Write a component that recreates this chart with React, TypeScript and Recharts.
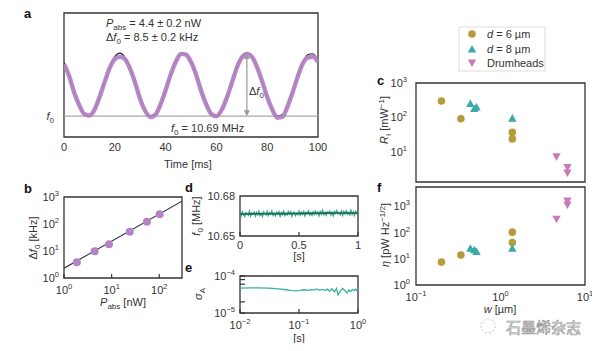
import React from 'react';
import {
  LineChart, Line, ScatterChart, Scatter, XAxis, YAxis, ReferenceLine, ReferenceArea,
} from 'recharts';

const FONT = '"Liberation Sans", Arial, Helvetica, sans-serif';
const INK = '#333';
const PURPLE = '#b483c4';
const GOLD = '#b59b3b';
const TEAL = '#39a9aa';
const PINK = '#c97ab5';
const D_GREEN = '#3aa88a';
const D_DARK = '#1d6655';
const E_LINE = '#3bb0a0';

// ---- a: frequency shift above f0 (kHz) vs time (ms)
const aTime = [0, 2, 4, 6, 8, 10, 12, 14, 16, 18, 20, 22, 24, 26, 28, 30, 32, 34, 36, 38, 40, 42, 44, 46, 48, 50,
  52, 54, 56, 58, 60, 62, 64, 66, 68, 70, 72, 74, 76, 78, 80, 82, 84, 86, 88, 90, 92, 94, 96, 98, 100];
const aMeasured = [7.0, 5.45, 3.2, 1.5, 0.3, 0.1, 0.85, 2.6, 4.6, 6.5, 7.7, 8.0, 7.7, 6.4, 4.5, 2.3, 0.7, -0.1, 0.2,
  1.6, 3.5, 5.6, 7.3, 8.4, 8.3, 7.3, 5.6, 3.4, 1.6, 0.3, 0.0, 0.8, 2.4, 4.4, 6.5, 7.9, 8.4, 8.0, 6.6, 4.7, 2.6, 0.9,
  -0.2, -0.1, 1.3, 3.2, 5.3, 7.1, 7.9, 8.0, 7.3];
const aFit = [7.2, 5.38, 3.27, 1.41, 0.24, 0.06, 0.9, 2.57, 4.65, 6.63, 8.03, 8.5, 7.93, 6.45, 4.44, 2.37, 0.78, 0.03,
  0.31, 1.57, 3.48, 5.58, 7.35, 8.37, 8.37, 7.36, 5.59, 3.49, 1.58, 0.32, 0.03, 0.77, 2.37, 4.43, 6.45, 7.92, 8.5,
  8.03, 6.64, 4.66, 2.58, 0.91, 0.06, 0.24, 1.4, 3.26, 5.36, 7.2, 8.3, 8.42, 7.51];
const aTicks = [0, 20, 40, 60, 80, 100];
const aArrowTime = 72;
const aShift = 8.5;

// ---- b: Δf0 (kHz) vs Pabs (nW)
const bPower = [1.86, 4.4, 8.8, 24, 55, 102];
const bShift = [3.8, 9.7, 17.7, 52, 122, 230];
const bFitPower = [1, 300];
const bFitShift = [2.3, 700];

// ---- d: f0 (MHz) vs time (s)
const dFreq = [
  10.6673, 10.6653, 10.668, 10.666, 10.6647, 10.6675, 10.6668, 10.6656, 10.6685, 10.6651,
  10.6672, 10.6664, 10.6678, 10.665, 10.6675, 10.6659, 10.6683, 10.6655, 10.667, 10.6647,
  10.668, 10.6668, 10.6659, 10.6683, 10.6654, 10.6674, 10.6663, 10.6686, 10.6657, 10.6672,
  10.6652, 10.6678, 10.6666, 10.6681, 10.665, 10.6675, 10.6661, 10.6685, 10.6655, 10.6669,
  10.6659, 10.6683, 10.6665, 10.668, 10.665, 10.6674, 10.6678, 10.6654, 10.6671, 10.6661,
  10.6685, 10.6658, 10.6678, 10.6664, 10.6682, 10.6653, 10.6676, 10.6667, 10.6687, 10.6659,
  10.6674, 10.6657, 10.6681, 10.6662, 10.6685, 10.6666, 10.6679, 10.6653, 10.6682, 10.6664,
  10.6691, 10.6662, 10.6676, 10.6657, 10.6679, 10.667, 10.6685, 10.6659, 10.6677, 10.6653,
  10.6682, 10.6669, 10.6689, 10.6665, 10.6674, 10.6661, 10.6685, 10.6657, 10.6683, 10.6667,
  10.6688, 10.6664, 10.6676, 10.6659, 10.669, 10.6662, 10.6679, 10.6656, 10.6684, 10.6671,
  10.668,
];
const dMeanTime = [0, 0.1, 0.2, 0.3, 0.4, 0.5, 0.6, 0.7, 0.8, 0.9, 1];
const dMean = [10.6665, 10.6666, 10.6667, 10.6667, 10.6668, 10.6669, 10.667, 10.6671, 10.6672, 10.6672, 10.6673];

// ---- e: Allan deviation vs τ (s)
const eTau = [0.01, 0.015, 0.02, 0.03, 0.04, 0.05, 0.06, 0.07, 0.08, 0.09, 0.1, 0.11, 0.12, 0.14, 0.16, 0.18, 0.2,
  0.22, 0.25, 0.28, 0.3, 0.33, 0.36, 0.4, 0.43, 0.46, 0.5, 0.55, 0.6, 0.65, 0.7, 0.75, 0.8, 0.85, 0.9, 0.95, 1.0];
const eSigma = [4.7e-5, 4.75e-5, 4.75e-5, 4.7e-5, 4.55e-5, 4.4e-5, 4.25e-5, 4.1e-5, 4.0e-5, 3.95e-5, 4.0e-5, 4.15e-5,
  4.25e-5, 4.1e-5, 4.3e-5, 4.2e-5, 4.4e-5, 4.15e-5, 4.35e-5, 4.05e-5, 4.4e-5, 3.9e-5, 4.5e-5, 3.7e-5, 4.6e-5, 3.1e-5,
  3.9e-5, 4.6e-5, 4.0e-5, 3.5e-5, 4.2e-5, 3.8e-5, 4.3e-5, 4.0e-5, 4.4e-5, 4.1e-5, 4.6e-5];

// ---- c / f: responsivity and NEP vs width w (µm)
const gold6W = [0.2, 0.34, 1.38, 1.38];
const gold6R = [300, 92, 37, 24];
const gold6Eta = [7.5, 14, 42, 105];
const teal8W = [0.44, 0.49, 0.52, 1.38];
const teal8R = [251, 180, 200, 95];
const teal8Eta = [25, 22, 19, 25];
const drumW = [4.6, 6.2, 6.2];
const drumR = [7.3, 3.6, 2.5];
const drumEta = [330, 1650, 1170];

const pts = (xs: number[], ys: number[]) => xs.map((x, i) => ({ x, y: ys[i] }));

type Box = { x0: number; y0: number; x1: number; y1: number; L: number; B: number; T: number; R: number };
const place = (b: Box) => ({
  style: { position: 'absolute' as const, left: b.x0 - b.L, top: b.y0 - b.T },
  width: b.x1 - b.x0 + b.L + b.R,
  height: b.y1 - b.y0 + b.T + b.B,
  margin: { top: b.T, right: b.R, bottom: 0, left: 0 },
});

const powLabel = (v: number) => {
  const e = Math.round(Math.log10(v));
  return (
    <>
      <tspan>10</tspan>
      <tspan dy={-5} fontSize={7.5}>{e < 0 ? '\u2212' + -e : String(e)}</tspan>
    </>
  );
};
const plain = (v: number) => String(v);

const makeTick = (
  side: 'bottom' | 'left', margin: number, fmt: (v: number) => React.ReactNode,
  inward = 0, labelled?: number[],
) => (p: any) => {
  const v = p.payload.value;
  const show = !labelled || labelled.includes(v);
  if (side === 'bottom') {
    const ay = p.y - margin;
    return (
      <g>
        {inward ? <line x1={p.x} x2={p.x} y1={ay} y2={ay - inward} stroke={INK} strokeWidth={1.2} /> : null}
        {show ? (
          <text x={p.x} y={p.y} dy="0.71em" textAnchor="middle" fontSize={11} fill={INK} fontFamily={FONT}>{fmt(v)}</text>
        ) : null}
      </g>
    );
  }
  const ax = p.x + margin;
  return (
    <g>
      {inward ? <line x1={ax} x2={ax + inward} y1={p.y} y2={p.y} stroke={INK} strokeWidth={1.2} /> : null}
      {show ? (
        <text x={p.x} y={p.y} dy="0.355em" textAnchor="end" fontSize={11} fill={INK} fontFamily={FONT}>{fmt(v)}</text>
      ) : null}
    </g>
  );
};

const dot = (color: string, r: number) => (p: any) => <circle cx={p.cx} cy={p.cy} r={r} fill={color} />;
const triUp = (color: string, s = 4.2) => (p: any) => (
  <polygon points={`${p.cx},${p.cy - s} ${p.cx - s},${p.cy + s * 0.8} ${p.cx + s},${p.cy + s * 0.8}`} fill={color} />
);
const triDown = (color: string, s = 4.2) => (p: any) => (
  <polygon points={`${p.cx},${p.cy + s} ${p.cx - s},${p.cy - s * 0.8} ${p.cx + s},${p.cy - s * 0.8}`} fill={color} />
);
const none = () => <g />;

const frameProps = { fill: 'none', stroke: INK, strokeWidth: 1.3, fillOpacity: 0 };

function PanelA() {
  const box: Box = { x0: 64, y0: 13, x1: 318, y1: 137, L: 44, B: 30, T: 6, R: 14 };
  const pl = place(box);
  const data = aTime.map((t, i) => ({ t, meas: aMeasured[i], fit: aFit[i] }));
  const f0Label = () => (
    <>
      <tspan fontStyle="italic">f</tspan>
      <tspan fontSize={8} dy={3}>0</tspan>
    </>
  );
  const arrow = (p: any) => {
    const { x1, y1, x2, y2 } = p;
    const top = Math.min(y1, y2);
    const bot = Math.max(y1, y2);
    return (
      <g stroke="#9a9a9a" fill="#9a9a9a" strokeWidth={1.2}>
        <line x1={x1} x2={x2} y1={top + 4} y2={bot - 4} />
        <polygon points={`${x1},${top} ${x1 - 3},${top + 6} ${x1 + 3},${top + 6}`} stroke="none" />
        <polygon points={`${x1},${bot} ${x1 - 3},${bot - 6} ${x1 + 3},${bot - 6}`} stroke="none" />
      </g>
    );
  };
  return (
    <div style={pl.style}>
      <LineChart width={pl.width} height={pl.height} data={data} margin={pl.margin}>
        <XAxis type="number" dataKey="t" domain={[0, 100]} ticks={aTicks} interval={0} height={box.B}
          tickSize={0} tickMargin={6} axisLine={false} tick={makeTick('bottom', 6, plain)} allowDataOverflow />
        <YAxis type="number" domain={[-2.8, 13.9]} ticks={[0]} interval={0} width={box.L}
          tickSize={0} tickMargin={10} axisLine={false} tick={makeTick('left', 10, f0Label)} allowDataOverflow />
        <ReferenceLine y={0} stroke="#a8a8a8" strokeWidth={1.2} />
        <Line dataKey="fit" type="monotone" stroke="#222" strokeWidth={1.1} dot={false} isAnimationActive={false} />
        <Line dataKey="meas" type="monotone" stroke={PURPLE} strokeWidth={4.4} strokeOpacity={0.95} dot={false}
          isAnimationActive={false} />
        <ReferenceLine segment={[{ x: aArrowTime, y: 0 }, { x: aArrowTime, y: aShift }]} shape={arrow} />
        <ReferenceArea x1={0} x2={100} y1={-2.8} y2={13.9} {...frameProps} />
      </LineChart>
    </div>
  );
}

function PanelB() {
  const box: Box = { x0: 64, y0: 197, x1: 182, y1: 278, L: 44, B: 26, T: 8, R: 14 };
  const pl = place(box);
  return (
    <div style={pl.style}>
      <ScatterChart width={pl.width} height={pl.height} margin={pl.margin}>
        <XAxis type="number" dataKey="x" scale="log" domain={[1, 300]} ticks={[1, 10, 100]} interval={0}
          height={box.B} tickSize={0} tickMargin={8} axisLine={false} tick={makeTick('bottom', 8, powLabel, 4)}
          allowDataOverflow />
        <YAxis type="number" dataKey="y" scale="log" domain={[1, 1000]} ticks={[1, 10, 100, 1000]} interval={0}
          width={box.L} tickSize={0} tickMargin={5} axisLine={false} tick={makeTick('left', 5, powLabel)}
          allowDataOverflow />
        <Scatter data={pts(bFitPower, bFitShift)} line={{ stroke: INK, strokeWidth: 1.1 }} shape={none}
          isAnimationActive={false} />
        <Scatter data={pts(bPower, bShift)} shape={dot(PURPLE, 4)} isAnimationActive={false} />
        <ReferenceArea x1={1} x2={300} y1={1} y2={1000} {...frameProps} />
      </ScatterChart>
    </div>
  );
}

function PanelD() {
  const box: Box = { x0: 240, y0: 196, x1: 358, y1: 236, L: 44, B: 20, T: 8, R: 10 };
  const pl = place(box);
  const raw = dFreq.map((y, i) => ({ x: i / (dFreq.length - 1), y }));
  const mean = pts(dMeanTime, dMean);
  return (
    <div style={pl.style}>
      <LineChart width={pl.width} height={pl.height} margin={pl.margin}>
        <XAxis type="number" dataKey="x" domain={[0, 1]} ticks={[0, 0.5, 1]} interval={0} height={box.B}
          tickSize={0} tickMargin={5} axisLine={false} tick={makeTick('bottom', 5, plain, 4)} allowDataOverflow />
        <YAxis type="number" dataKey="y" domain={[10.65, 10.68]} ticks={[10.65, 10.68]} interval={0} width={box.L}
          tickSize={0} tickMargin={5} axisLine={false} tick={makeTick('left', 5, (v) => v.toFixed(2))}
          allowDataOverflow />
        <Line data={raw} dataKey="y" type="linear" stroke={D_GREEN} strokeWidth={1.5} dot={false}
          isAnimationActive={false} />
        <Line data={mean} dataKey="y" type="monotone" stroke={D_DARK} strokeWidth={1.6} dot={false}
          isAnimationActive={false} />
        <ReferenceArea x1={0} x2={1} y1={10.65} y2={10.68} {...frameProps} />
      </LineChart>
    </div>
  );
}

function PanelE() {
  const box: Box = { x0: 240, y0: 276, x1: 358, y1: 313, L: 44, B: 22, T: 8, R: 12 };
  const pl = place(box);
  const data = pts(eTau, eSigma);
  return (
    <div style={pl.style}>
      <LineChart width={pl.width} height={pl.height} data={data} margin={pl.margin}>
        <XAxis type="number" dataKey="x" scale="log" domain={[0.01, 1]} ticks={[0.01, 0.1, 1]} interval={0}
          height={box.B} tickSize={0} tickMargin={8} axisLine={false} tick={makeTick('bottom', 8, powLabel, 4)}
          allowDataOverflow />
        <YAxis type="number" dataKey="y" scale="log" domain={[1e-5, 1e-4]} ticks={[1e-5, 2e-5, 6e-5, 8e-5, 1e-4]}
          interval={0} width={box.L} tickSize={0} tickMargin={5} axisLine={false}
          tick={makeTick('left', 5, powLabel, 5, [1e-5, 1e-4])} allowDataOverflow />
        <Line dataKey="y" type="linear" stroke={E_LINE} strokeWidth={1.3} dot={false} isAnimationActive={false} />
        <ReferenceArea x1={0.01} x2={1} y1={1e-5} y2={1e-4} {...frameProps} />
      </LineChart>
    </div>
  );
}

function PanelC() {
  const box: Box = { x0: 416, y0: 83, x1: 585, y1: 182, L: 40, B: 4, T: 8, R: 8 };
  const pl = place(box);
  return (
    <div style={pl.style}>
      <ScatterChart width={pl.width} height={pl.height} margin={pl.margin}>
        <XAxis type="number" dataKey="x" scale="log" domain={[0.1, 10]} ticks={[0.1, 1, 10]} height={box.B}
          tick={false} tickLine={false} axisLine={false} allowDataOverflow />
        <YAxis type="number" dataKey="y" scale="log" domain={[1.35, 1000]} ticks={[10, 100, 1000]} interval={0}
          width={box.L} tickSize={0} tickMargin={9} axisLine={false} tick={makeTick('left', 9, powLabel)}
          allowDataOverflow />
        <Scatter data={pts(gold6W, gold6R)} shape={dot(GOLD, 3.8)} isAnimationActive={false} />
        <Scatter data={pts(teal8W, teal8R)} shape={triUp(TEAL)} isAnimationActive={false} />
        <Scatter data={pts(drumW, drumR)} shape={triDown(PINK)} isAnimationActive={false} />
        <ReferenceArea x1={0.1} x2={10} y1={1.35} y2={1000} {...frameProps} />
      </ScatterChart>
    </div>
  );
}

function PanelF() {
  const box: Box = { x0: 416, y0: 187, x1: 585, y1: 285, L: 40, B: 24, T: 8, R: 14 };
  const pl = place(box);
  return (
    <div style={pl.style}>
      <ScatterChart width={pl.width} height={pl.height} margin={pl.margin}>
        <XAxis type="number" dataKey="x" scale="log" domain={[0.1, 10]} ticks={[0.1, 1, 10]} interval={0}
          height={box.B} tickSize={0} tickMargin={8} axisLine={false} tick={makeTick('bottom', 8, powLabel)}
          allowDataOverflow />
        <YAxis type="number" dataKey="y" scale="log" domain={[1, 5600]} ticks={[1, 10, 100, 1000]} interval={0}
          width={box.L} tickSize={0} tickMargin={6} axisLine={false} tick={makeTick('left', 6, powLabel)}
          allowDataOverflow />
        <Scatter data={pts(gold6W, gold6Eta)} shape={dot(GOLD, 3.8)} isAnimationActive={false} />
        <Scatter data={pts(teal8W, teal8Eta)} shape={triUp(TEAL)} isAnimationActive={false} />
        <Scatter data={pts(drumW, drumEta)} shape={triDown(PINK)} isAnimationActive={false} />
        <ReferenceArea x1={0.1} x2={10} y1={1} y2={5600} {...frameProps} />
      </ScatterChart>
    </div>
  );
}

const Sub = ({ children, size = 8 }: { children: React.ReactNode; size?: number }) => (
  <tspan fontSize={size} dy={3}>{children}</tspan>
);

function Overlay() {
  const t = { fontFamily: FONT, fontSize: 11, fill: INK };
  const letter = { fontFamily: FONT, fontSize: 13, fontWeight: 700, fill: '#111' };
  return (
    <svg width={600} height={351} style={{ position: 'absolute', left: 0, top: 0, pointerEvents: 'none' }}>
      <text x={24} y={18} {...letter}>a</text>
      <text x={24} y={193} {...letter}>b</text>
      <text x={377} y={85} {...letter}>c</text>
      <text x={185} y={192} {...letter}>d</text>
      <text x={185} y={272} {...letter}>e</text>
      <text x={377} y={192} {...letter}>f</text>

      {/* panel a annotations */}
      <text x={106} y={27} {...t}>
        <tspan fontStyle="italic">P</tspan><Sub>abs</Sub><tspan dy={-3}> = 4.4 ± 0.2 nW</tspan>
      </text>
      <text x={106} y={41} {...t}>
        Δ<tspan fontStyle="italic">f</tspan><Sub>0</Sub><tspan dy={-3}> = 8.5 ± 0.2 kHz</tspan>
      </text>
      <text x={171} y={132} {...t}>
        <tspan fontStyle="italic">f</tspan><Sub>0</Sub><tspan dy={-3}> = 10.69 MHz</tspan>
      </text>
      <text x={249} y={95} {...t}>
        Δ<tspan fontStyle="italic">f</tspan><Sub>0</Sub>
      </text>
      <text x={188} y={168} textAnchor="middle" {...t}>Time [ms]</text>

      {/* panel b */}
      <text transform="translate(37,238) rotate(-90)" textAnchor="middle" {...t}>
        Δ<tspan fontStyle="italic">f</tspan><Sub>0</Sub><tspan dy={-3}> [kHz]</tspan>
      </text>
      <text x={123} y={306} textAnchor="middle" {...t}>
        <tspan fontStyle="italic">P</tspan><Sub>abs</Sub><tspan dy={-3}> [nW]</tspan>
      </text>

      {/* panel d / e */}
      <text transform="translate(200,216) rotate(-90)" textAnchor="middle" {...t}>
        <tspan fontStyle="italic">f</tspan><Sub>0</Sub><tspan dy={-3}> [MHz]</tspan>
      </text>
      <text x={299} y={260} textAnchor="middle" {...t}>[s]</text>
      <text transform="translate(202,294) rotate(-90)" textAnchor="middle" {...t}>
        <tspan fontStyle="italic">σ</tspan><Sub>A</Sub>
      </text>
      <text x={299} y={342} textAnchor="middle" {...t}>[s]</text>

      {/* panel c / f */}
      <text transform="translate(388,120) rotate(-90)" textAnchor="middle" {...t}>
        <tspan fontStyle="italic">R</tspan><Sub>I</Sub><tspan dy={-3}> [mW</tspan>
        <tspan dy={-4} fontSize={8}>−1</tspan><tspan dy={4}>]</tspan>
      </text>
      <text transform="translate(389,235) rotate(-90)" textAnchor="middle" {...t}>
        <tspan fontStyle="italic">η</tspan><tspan> [pW Hz</tspan>
        <tspan dy={-4} fontSize={8}>−1/2</tspan><tspan dy={4}>]</tspan>
      </text>
      <text x={500} y={313} textAnchor="middle" {...t}>
        <tspan fontStyle="italic">w</tspan> [µm]
      </text>

      {/* legend */}
      <rect x={459} y={27} width={86} height={44} fill="#fff" stroke="#ddd" strokeWidth={1} />
      <circle cx={472} cy={34} r={3.8} fill={GOLD} />
      <polygon points="472,45 467.8,52.4 476.2,52.4" fill={TEAL} />
      <polygon points="472,67 467.8,59.6 476.2,59.6" fill={PINK} />
      <text x={487} y={38} {...t}><tspan fontStyle="italic">d</tspan> = 6 µm</text>
      <text x={487} y={53} {...t}><tspan fontStyle="italic">d</tspan> = 8 µm</text>
      <text x={487} y={67} {...t}>Drumheads</text>

      {/* watermark */}
      <circle cx={488} cy={326} r={7} fill="none" stroke="#c4c4c4" strokeDasharray="2 2" />
      <text x={506} y={333} fontFamily='"Noto Sans CJK SC", sans-serif' fontSize={15} fill="none" stroke="#999"
        strokeWidth={0.7}>石墨烯杂志</text>
    </svg>
  );
}

export default function App() {
  return (
    <div style={{ position: 'relative', width: 600, height: 351, margin: -8, background: '#fff', overflow: 'hidden' }}>
      <PanelA />
      <PanelB />
      <PanelC />
      <PanelD />
      <PanelE />
      <PanelF />
      <Overlay />
    </div>
  );
}
